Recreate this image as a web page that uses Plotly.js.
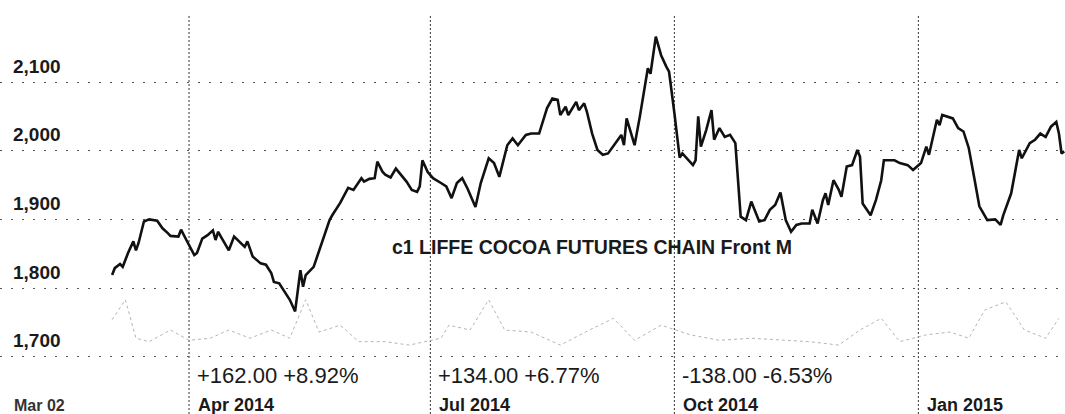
<!DOCTYPE html>
<html>
<head>
<meta charset="utf-8">
<script src="https://cdn.plot.ly/plotly-3.0.1.min.js"></script>
<style>html,body{margin:0;padding:0;background:#fff;}#chart{width:1065px;height:414px;}</style>
</head>
<body>
<div id="chart"></div>
<script>
// Front-month LIFFE cocoa closes
const priceDates = [
'2014-03-03','2014-03-04','2014-03-06','2014-03-07','2014-03-09','2014-03-11','2014-03-12','2014-03-13','2014-03-15','2014-03-17',
'2014-03-20','2014-03-22','2014-03-24','2014-03-25','2014-03-28','2014-03-29','2014-03-31','2014-04-03','2014-04-04','2014-04-06',
'2014-04-08','2014-04-10','2014-04-11','2014-04-12','2014-04-13','2014-04-16','2014-04-18','2014-04-20','2014-04-22','2014-04-23',
'2014-04-25','2014-04-28','2014-04-30','2014-05-02','2014-05-03','2014-05-05','2014-05-07','2014-05-09','2014-05-11','2014-05-13',
'2014-05-14','2014-05-15','2014-05-18','2014-05-21','2014-05-24','2014-05-25','2014-05-28','2014-05-31','2014-06-02','2014-06-05',
'2014-06-06','2014-06-08','2014-06-10','2014-06-11','2014-06-13','2014-06-14','2014-06-16','2014-06-18','2014-06-20','2014-06-22',
'2014-06-24','2014-06-26','2014-06-27','2014-06-28','2014-06-30','2014-07-02','2014-07-05','2014-07-07','2014-07-09','2014-07-11',
'2014-07-13','2014-07-15','2014-07-18','2014-07-20','2014-07-23','2014-07-25','2014-07-27','2014-07-30','2014-08-01','2014-08-03',
'2014-08-06','2014-08-08','2014-08-11','2014-08-14','2014-08-16','2014-08-18','2014-08-19','2014-08-21','2014-08-22','2014-08-24',
'2014-08-25','2014-08-26','2014-08-28','2014-08-29','2014-08-31','2014-09-02','2014-09-04','2014-09-06','2014-09-09','2014-09-11',
'2014-09-12','2014-09-13','2014-09-16','2014-09-18','2014-09-21','2014-09-22','2014-09-24','2014-09-26','2014-09-28','2014-09-29',
'2014-10-01','2014-10-03','2014-10-04','2014-10-08','2014-10-09','2014-10-10','2014-10-11','2014-10-13','2014-10-15','2014-10-16',
'2014-10-18','2014-10-20','2014-10-22','2014-10-24','2014-10-26','2014-10-28','2014-10-30','2014-11-02','2014-11-04','2014-11-06',
'2014-11-08','2014-11-10','2014-11-12','2014-11-14','2014-11-16','2014-11-18','2014-11-21','2014-11-22','2014-11-24','2014-11-26',
'2014-11-27','2014-11-28','2014-11-30','2014-12-02','2014-12-03','2014-12-05','2014-12-07','2014-12-09','2014-12-10','2014-12-11',
'2014-12-14','2014-12-16','2014-12-18','2014-12-19','2014-12-23','2014-12-25','2014-12-28','2014-12-30','2015-01-02','2015-01-04',
'2015-01-05','2015-01-08','2015-01-09','2015-01-10','2015-01-14','2015-01-16','2015-01-18','2015-01-20','2015-01-22','2015-01-24',
'2015-01-27','2015-01-30','2015-02-01','2015-02-02','2015-02-05','2015-02-08','2015-02-09','2015-02-12','2015-02-14','2015-02-16',
'2015-02-18','2015-02-20','2015-02-22','2015-02-23','2015-02-24','2015-02-25'
];
const priceValues = [
1819,1829,1835,1831,1851,1868,1855,1866,1897,1900,
1898,1887,1880,1876,1875,1885,1870,1848,1851,1872,
1877,1884,1870,1882,1875,1855,1875,1868,1860,1868,
1846,1836,1834,1822,1809,1807,1794,1783,1766,1826,
1802,1819,1831,1866,1899,1906,1924,1946,1943,1960,
1955,1959,1960,1984,1969,1965,1961,1974,1965,1955,
1943,1940,1948,1986,1969,1960,1953,1948,1931,1953,
1960,1945,1918,1953,1989,1982,1962,2008,2018,2008,
2023,2025,2025,2062,2076,2074,2052,2064,2052,2064,
2071,2059,2069,2057,2025,2001,1994,1996,2013,2023,
2008,2047,2008,2050,2120,2112,2166,2139,2122,2115,
2055,1990,1996,1979,1986,2050,2006,2030,2059,2016,
2033,2020,2023,2011,1904,1899,1926,1897,1899,1914,
1921,1939,1899,1882,1892,1894,1894,1914,1894,1928,
1938,1921,1957,1943,1933,1977,1979,2001,1991,1923,
1906,1928,1957,1986,1986,1982,1979,1972,1982,2006,
1994,2045,2037,2052,2047,2033,2028,2004,1962,1919,
1899,1900,1892,1906,1938,2001,1989,2011,2016,2025,
2020,2035,2042,2025,1996,1999
];

// Faint lower series (scanned, barely visible)
const faintDates = [
'2014-03-03','2014-03-08','2014-03-12','2014-03-17','2014-03-25','2014-04-01','2014-04-09','2014-04-16','2014-04-24','2014-05-02',
'2014-05-09','2014-05-15','2014-05-20','2014-05-28','2014-06-04','2014-06-14','2014-06-23','2014-07-05','2014-07-08','2014-07-16',
'2014-07-23','2014-07-29','2014-08-08','2014-08-19','2014-08-30','2014-09-08','2014-09-16','2014-09-26','2014-10-07','2014-10-18',
'2014-10-30','2014-11-10','2014-11-21','2014-12-02','2014-12-10','2014-12-18','2014-12-25','2015-01-04','2015-01-13','2015-01-20',
'2015-01-26','2015-02-03','2015-02-10','2015-02-18','2015-02-23'
];
const faintValues = [
1754,1783,1727,1722,1739,1724,1727,1739,1727,1739,
1727,1783,1736,1746,1722,1722,1717,1727,1746,1739,
1783,1739,1736,1717,1739,1756,1724,1746,1732,1724,
1727,1724,1722,1717,1739,1756,1722,1732,1736,1727,
1768,1780,1739,1727,1756
];

const quarterDates = ['2014-04-01','2014-07-01','2014-10-01','2015-01-01'];
const quarterLabels = ['Apr 2014','Jul 2014','Oct 2014','Jan 2015'];
const quarterChanges = ['+162.00 +8.92%','+134.00 +6.77%','-138.00 -6.53%'];
const yTickVals = [1700,1800,1900,2000,2100];
const yTickText = ['1,700','1,800','1,900','2,000','2,100'];
const seriesName = 'c1 LIFFE COCOA FUTURES CHAIN Front M';
const leftLabel = 'Mar 02';

const FONT = 'Liberation Sans, Arial, Helvetica, sans-serif';

const traces = [
  {
    x: faintDates, y: faintValues, type: 'scatter', mode: 'lines',
    line: {color: '#b5b5b5', width: 1, dash: 'dot'}, hoverinfo: 'skip', showlegend: false
  },
  {
    x: priceDates, y: priceValues, type: 'scatter', mode: 'lines',
    name: seriesName,
    line: {color: '#111111', width: 2.6}, showlegend: false
  }
];

const shapes = quarterDates.map(d => ({
  type: 'line', xref: 'x', yref: 'paper', x0: d, x1: d, y0: 0, y1: 0.964,
  line: {color: '#333333', width: 1, dash: '2px,2px'}, layer: 'below'
}));

const annotations = [];
quarterDates.forEach((d, i) => {
  annotations.push({
    x: d, xref: 'x', y: 0.022, yref: 'paper', xanchor: 'left', yanchor: 'middle',
    xshift: 7, text: quarterLabels[i], showarrow: false,
    font: {family: FONT, size: 18, color: '#1a1a1a', weight: 'bold'}
  });
  if (i < quarterChanges.length) {
    annotations.push({
      x: d, xref: 'x', y: 0.094, yref: 'paper', xanchor: 'left', yanchor: 'middle',
      xshift: 6, text: quarterChanges[i], showarrow: false,
      font: {family: FONT, size: 22, color: '#1a1a1a'}
    });
  }
});
annotations.push({
  x: 0.366, xref: 'paper', y: 0.403, yref: 'paper', xanchor: 'left', yanchor: 'middle',
  text: seriesName, showarrow: false,
  font: {family: FONT, size: 19.5, color: '#1a1a1a', weight: 'bold'}
});
annotations.push({
  x: 0.011, xref: 'paper', y: 0.02, yref: 'paper', xanchor: 'left', yanchor: 'middle',
  text: leftLabel, showarrow: false,
  font: {family: FONT, size: 16, color: '#333333', weight: 'bold'}
});

const layout = {
  width: 1065, height: 414,
  margin: {l: 0, r: 0, t: 0, b: 0, pad: 0},
  paper_bgcolor: '#ffffff', plot_bgcolor: '#ffffff',
  showlegend: false,
  xaxis: {
    type: 'date', range: ['2014-01-19 17:30', '2015-02-25 07:00'],
    showgrid: false, showticklabels: false, zeroline: false, showline: false, ticks: ''
  },
  yaxis: {
    range: [1616.7, 2219.4],
    tickvals: yTickVals, ticktext: yTickText,
    showgrid: true, gridcolor: '#555555', gridwidth: 1, griddash: '2px,9px',
    zeroline: false, showline: false, ticks: '',
    ticklabelposition: 'inside', ticklabelshift: -16, ticklabelstandoff: 10,
    tickfont: {family: FONT, size: 19, color: '#1a1a1a', weight: 'bold'}
  },
  shapes: shapes,
  annotations: annotations
};

Plotly.newPlot('chart', traces, layout, {staticPlot: true, displayModeBar: false});
</script>
</body>
</html>
